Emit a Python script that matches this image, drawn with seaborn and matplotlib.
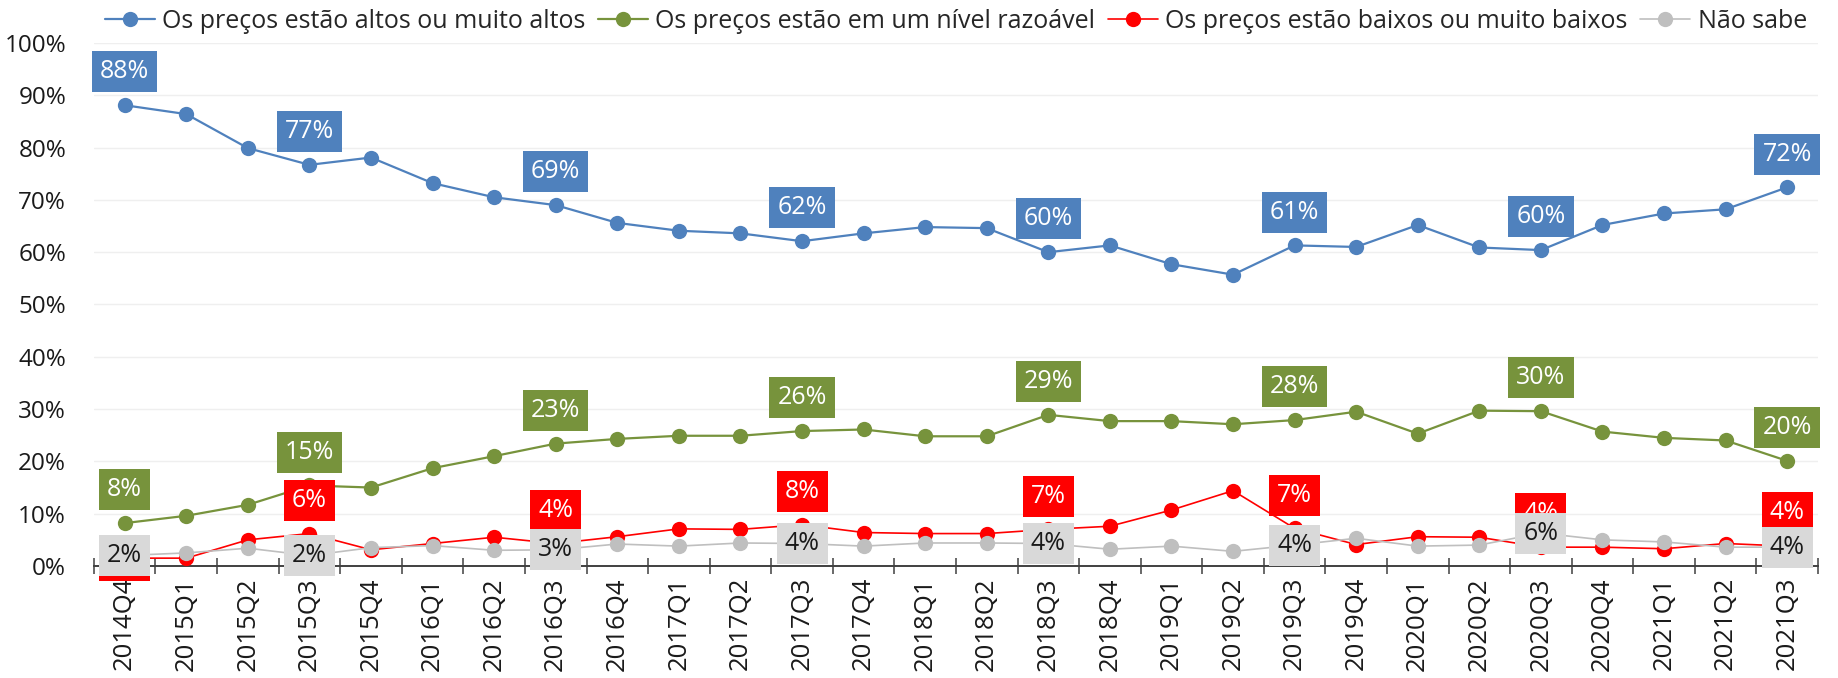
import numpy as np
import pandas as pd
import matplotlib
matplotlib.use("Agg")
import matplotlib.pyplot as plt
from matplotlib.ticker import PercentFormatter, FixedLocator
import seaborn as sns

# quarters on the x axis
quarters = ['2014Q4', '2015Q1', '2015Q2', '2015Q3', '2015Q4', '2016Q1', '2016Q2', '2016Q3',
            '2016Q4', '2017Q1', '2017Q2', '2017Q3', '2017Q4', '2018Q1', '2018Q2', '2018Q3',
            '2018Q4', '2019Q1', '2019Q2', '2019Q3', '2019Q4', '2020Q1', '2020Q2', '2020Q3',
            '2020Q4', '2021Q1', '2021Q2', '2021Q3']

# shares (fraction of respondents)
altos = [0.881, 0.864, 0.799, 0.767, 0.781, 0.732, 0.705, 0.690, 0.656, 0.641, 0.636, 0.621,
         0.636, 0.648, 0.646, 0.600, 0.613, 0.577, 0.557, 0.613, 0.610, 0.652, 0.609, 0.604,
         0.652, 0.674, 0.682, 0.724]
razoavel = [0.082, 0.096, 0.117, 0.154, 0.150, 0.187, 0.210, 0.234, 0.243, 0.249, 0.249, 0.258,
            0.261, 0.248, 0.248, 0.289, 0.277, 0.277, 0.271, 0.279, 0.295, 0.253, 0.297, 0.296,
            0.257, 0.245, 0.240, 0.201]
baixos = [0.015, 0.015, 0.050, 0.062, 0.031, 0.043, 0.055, 0.043, 0.056, 0.071, 0.070, 0.079,
          0.064, 0.062, 0.062, 0.070, 0.076, 0.107, 0.144, 0.072, 0.041, 0.056, 0.055, 0.036,
          0.036, 0.033, 0.043, 0.038]
nao_sabe = [0.020, 0.025, 0.034, 0.020, 0.035, 0.039, 0.030, 0.031, 0.042, 0.038, 0.044, 0.043,
            0.038, 0.044, 0.044, 0.043, 0.032, 0.038, 0.028, 0.040, 0.053, 0.038, 0.040, 0.063,
            0.050, 0.046, 0.036, 0.036]

series_names = ['Os preços estão altos ou muito altos', 'Os preços estão em um nível razoável',
                'Os preços estão baixos ou muito baixos', 'Não sabe']
series_values = [altos, razoavel, baixos, nao_sabe]
line_colors = ['#4F81BD', '#77933C', '#FF0000', '#BFBFBF']
box_colors = ['#4F81BD', '#77933C', '#FF0000', '#D9D9D9']
text_colors = ['white', 'white', 'white', '#1a1a1a']
line_widths = [1.6, 1.6, 1.2, 1.2]

# points that carry a data label
label_idx = [0, 3, 7, 11, 15, 19, 23, 27]

sns.set_theme(style='white')
plt.rcParams['font.family'] = ['Open Sans', 'DejaVu Sans']

fig = plt.figure(figsize=(18.38, 6.78), dpi=100)
ax = fig.add_axes([0.0511, 0.1652, 0.9380, 0.7714])

x = np.arange(len(quarters))
for name, vals, c, lw in zip(series_names, series_values, line_colors, line_widths):
    sns.lineplot(x=x, y=vals, ax=ax, color=c, linewidth=lw, marker='o', markersize=11,
                 markeredgewidth=0, label=name, legend=False, zorder=3)

# data labels: boxes above the point, grey ones centred on it
for k, (vals, bc, tc) in enumerate(zip(series_values, box_colors, text_colors)):
    for i in label_idx:
        dy = 0 if k == 3 else 24
        if k == 2 and i == 0:
            dy = -2
        ax.annotate(f"{vals[i] * 100:.0f}%", (x[i], vals[i]), xytext=(0, dy),
                    textcoords='offset points', ha='center', va='center',
                    fontsize=18, color=tc, zorder=5 + k,
                    bbox=dict(boxstyle='square,pad=0.32', fc=bc, ec='none'))

ax.set_xlim(-0.5, len(quarters) - 0.5)
ax.set_ylim(0, 1)
ax.yaxis.set_major_locator(FixedLocator(np.arange(0, 1.01, 0.1)))
ax.yaxis.set_major_formatter(PercentFormatter(1.0, decimals=0))
ax.set_xticks(x)
ax.set_xticklabels(quarters, rotation=90)
ax.set_xticks(np.arange(-0.5, len(quarters), 1), minor=True)
ax.tick_params(axis='x', which='major', length=0, pad=8, labelsize=18.5, colors='#1a1a1a')
ax.tick_params(axis='x', which='minor', direction='inout', length=11, width=1.1,
               color='#404040', bottom=True)
ax.tick_params(axis='y', length=0, pad=20, labelsize=17.5, colors='#1a1a1a')

ax.grid(axis='y', color='#EFEFEF', linewidth=1.0)
ax.grid(axis='x', visible=False)
ax.set_axisbelow(True)
sns.despine(ax=ax, left=True, top=True, right=True)
ax.spines['bottom'].set_color('#404040')
ax.spines['bottom'].set_linewidth(1.4)

handles, labels = ax.get_legend_handles_labels()
fig.legend(handles, labels, loc='center', bbox_to_anchor=(0.52, 0.968), ncol=4,
           frameon=False, fontsize=18, handlelength=2.0, handletextpad=0.3,
           columnspacing=0.5, borderaxespad=0)

fig.savefig('out.png', dpi=100)
